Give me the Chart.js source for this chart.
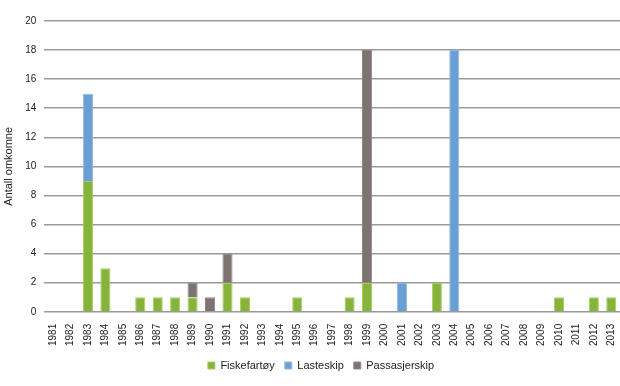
<!DOCTYPE html>
<html>
<head>
<meta charset="utf-8">
<script src="https://cdn.jsdelivr.net/npm/chart.js@4/dist/chart.umd.min.js"></script>
<style>
  html, body { margin: 0; padding: 0; background: #fff; }
  #wrap { width: 620px; height: 386px; }
</style>
</head>
<body>
<div id="wrap"><canvas id="chart" width="620" height="386"></canvas></div>
<script>
const years = ['1981','1982','1983','1984','1985','1986','1987','1988','1989','1990',
  '1991','1992','1993','1994','1995','1996','1997','1998','1999','2000',
  '2001','2002','2003','2004','2005','2006','2007','2008','2009','2010',
  '2011','2012','2013'];

const fiskefartoy = [0,0,9,3,0,1,1,1,1,0, 2,1,0,0,1,0,0,1,2,0, 0,0,2,0,0,0,0,0,0,1, 0,1,1];
const lasteskip   = [0,0,6,0,0,0,0,0,0,0, 0,0,0,0,0,0,0,0,0,0, 2,0,0,18,0,0,0,0,0,0, 0,0,0];
const passasjer   = [0,0,0,0,0,0,0,0,1,1, 2,0,0,0,0,0,0,0,16,0, 0,0,0,0,0,0,0,0,0,0, 0,0,0];

const yTicks = [0, 2, 4, 6, 8, 10, 12, 14, 16, 18, 20];

const tickFont = { family: '"Liberation Sans", Arial, sans-serif', size: 10 };
const labelFont = { family: '"Liberation Sans", Arial, sans-serif', size: 11 };

function series(label, data, color, edge) {
  return {
    label: label,
    data: data,
    backgroundColor: color,
    borderColor: edge,
    borderWidth: 1,
    categoryPercentage: 0.58,
    barPercentage: 1.0
  };
}

// nudge the legend a little to the right, as in the original
const legendShift = {
  id: 'legendShift',
  afterLayout(chart) {
    chart.legend.left += 11;
    chart.legend.right += 11;
  }
};

new Chart(document.getElementById('chart').getContext('2d'), {
  type: 'bar',
  data: {
    labels: years,
    datasets: [
      series('Fiskefartøy', fiskefartoy, '#86b43a', '#a6cf63'),
      series('Lasteskip', lasteskip, '#6a9fd6', '#8fbbe6'),
      series('Passasjerskip', passasjer, '#7d7371', '#8f8684')
    ]
  },
  plugins: [legendShift],
  options: {
    responsive: false,
    animation: false,
    layout: { padding: { left: 0, right: 0, top: 21, bottom: 5 } },
    plugins: {
      legend: {
        position: 'bottom',
        labels: {
          color: '#222',
          font: labelFont,
          boxWidth: 7,
          boxHeight: 7,
          padding: 10
        }
      },
      tooltip: { enabled: false }
    },
    scales: {
      x: {
        stacked: true,
        grid: { display: false },
        border: { display: false },
        afterFit: s => { s.paddingRight = 0; s.paddingLeft = 0; },
        ticks: {
          color: '#222',
          font: tickFont,
          minRotation: 90,
          maxRotation: 90,
          autoSkip: false,
          padding: 4
        }
      },
      y: {
        stacked: true,
        min: 0,
        max: 20,
        afterBuildTicks: axis => { axis.ticks = yTicks.map(v => ({ value: v })); },
        grid: { color: '#9a9a9a', lineWidth: 1.5, drawTicks: false },
        border: { display: false },
        ticks: { color: '#222', font: tickFont, padding: 8 },
        title: {
          display: true,
          text: 'Antall omkomne',
          color: '#222',
          font: labelFont,
          padding: 2
        }
      }
    }
  }
});
</script>
</body>
</html>
